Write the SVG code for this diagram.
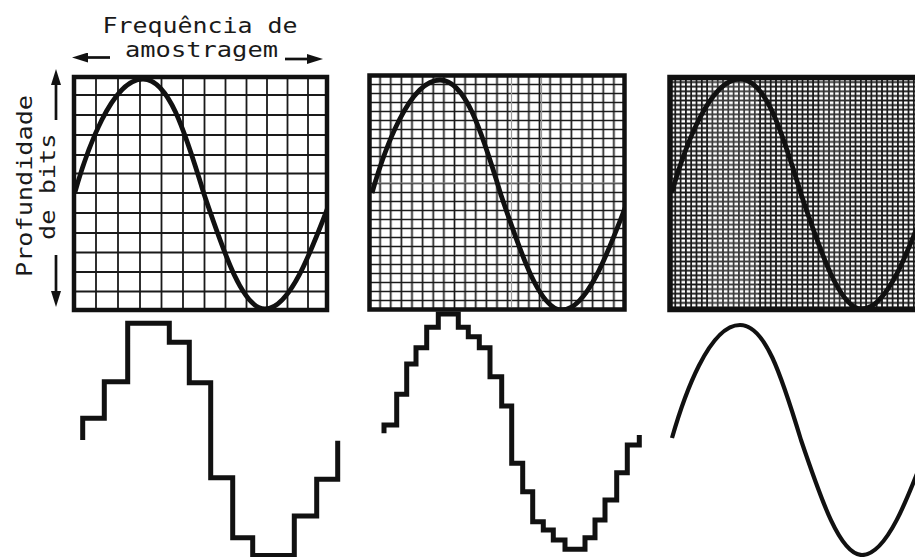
<svg xmlns="http://www.w3.org/2000/svg" xmlns:xlink="http://www.w3.org/1999/xlink" width="915" height="557" viewBox="0 0 915 557">
  <style>
    .lbl { font-family: "DejaVu Sans Mono", "Liberation Mono", monospace; font-size: 22px; fill: #1a1a1a; }
    .frame { fill: none; stroke: #111; }
    .grid { stroke: #1a1a1a; stroke-width: 1.8; fill: none; }
    .wave { fill: none; stroke: #111; stroke-width: 4.8; stroke-linejoin: round; }
    .wave-thin { fill: none; stroke: #111; stroke-width: 4.2; }
    .step { fill: none; stroke: #111; stroke-width: 5; stroke-linejoin: miter; stroke-linecap: butt; }
    .arrow { stroke: #111; stroke-width: 2.7; fill: none; }
    .grey { stroke: #9a9a9a; stroke-width: 1.2; }
  </style>
  <defs>
    <marker id="ah" markerUnits="userSpaceOnUse" markerWidth="16" markerHeight="10" refX="0" refY="5" orient="auto">
      <path d="M0,0 L16,5 L0,10 Z" fill="#111"/>
    </marker>
    <path id="sine" d="M75,192 C87,150 112,79 143,79 C168,79 184,128 204,194 C224.4,254.4 243.1,309 265,309 C289.4,309 310.3,254.4 333,194"/>
    <pattern id="grid2" patternUnits="userSpaceOnUse" x="364.1875" y="71" width="10.625" height="9">
      <path d="M5.3125,0 V9 M0,4.5 H10.625" stroke="#1a1a1a" stroke-width="1.7"/>
    </pattern>
    <pattern id="grid3" patternUnits="userSpaceOnUse" x="667.35" y="75.2" width="5.3" height="4.6">
      <path d="M2.65,0 V4.6 M0,2.3 H5.3" stroke="#1a1a1a" stroke-width="1.75"/>
    </pattern>
    <clipPath id="clip1"><rect x="74" y="77" width="253" height="233"/></clipPath>
    <clipPath id="clip2"><rect x="369.5" y="75.5" width="255" height="234"/></clipPath>
    <clipPath id="clip3"><rect x="670" y="77.5" width="260" height="232"/></clipPath>
  </defs>

  <g id="label-frequencia">
    <text class="lbl" x="102.5" y="32.5" textLength="195" lengthAdjust="spacingAndGlyphs">Frequência de</text>
    <text class="lbl" x="125" y="56.5" textLength="153" lengthAdjust="spacingAndGlyphs">amostragem</text>
  </g>

  <g id="label-profundidade">
    <text class="lbl" transform="translate(32,277) rotate(-90)" x="0" y="0" textLength="182" lengthAdjust="spacingAndGlyphs">Profundidade</text>
    <text class="lbl" transform="translate(55,240) rotate(-90)" x="0" y="0" textLength="106.5" lengthAdjust="spacingAndGlyphs">de bits</text>
  </g>

  <g id="panel-1">
    <rect x="74" y="77" width="253" height="233" fill="#fff"/>
    <path class="grid" d="M96,77V310 M118,77V310 M140,77V310 M161.5,77V310 M183,77V310 M204.5,77V310 M225.5,77V310 M246.5,77V310 M267,77V310 M287.5,77V310 M308,77V310 M74,95H327 M74,115H327 M74,135H327 M74,155H327 M74,173.5H327 M74,193H327 M74,213H327 M74,233H327 M74,252.5H327 M74,272H327 M74,291.5H327"/>
    <use xlink:href="#sine" href="#sine" class="wave" clip-path="url(#clip1)"/>
    <rect class="frame" x="74" y="77" width="253" height="233" stroke-width="4.5"/>
  </g>

  <g id="panel-2">
    <rect x="369.5" y="75.5" width="255" height="234" fill="url(#grid2)"/>
    <path class="grey" d="M511.5,78V307 M541.5,78V307 M372,183H622"/>
    <g clip-path="url(#clip2)">
      <use xlink:href="#sine" href="#sine" class="wave" transform="translate(297,1)"/>
    </g>
    <rect class="frame" x="369.5" y="75.5" width="255" height="234" stroke-width="4.5"/>
  </g>

  <g id="panel-3">
    <rect x="670" y="77.5" width="260" height="232" fill="url(#grid3)"/>
    <rect x="708" y="80" width="50" height="227" fill="#fff" opacity="0.15"/>
    <rect x="820" y="80" width="30" height="227" fill="#fff" opacity="0.1"/>
    <g clip-path="url(#clip3)">
      <use xlink:href="#sine" href="#sine" class="wave" transform="translate(597,0)"/>
    </g>
    <rect class="frame" x="670" y="77.5" width="260" height="232" stroke-width="5.5"/>
  </g>

  <g id="step-coarse">
    <path class="step" d="M82.7,440 V418.3 H104.3 V381.7 H127.7 V323.3 H169.3 V342.3 H189.3 V382.7 H210.7 V477.7 H232.7 V537.7 H252.7 V555.5 H294.3 V516 H316.7 V479.3 H337.7 V440.7"/>
  </g>

  <g id="step-fine">
    <path class="step" d="M384,433.3 V425 H396.7 V394.3 H406.7 V364 H416 V347.7 H426.7 V327.3 H438.3 V314 H458.3 V327.3 H468.3 V336.7 H479.3 V347.7 H490 V376.7 H501.7 V406 H511.7 V463.3 H522.7 V491.7 H532.7 V521.7 H543.3 V530 H553.3 V540 H565 V549.3 H585 V537.7 H595 V520 H605 V500 H616.7 V472.7 H627.3 V445 H639.3 V435"/>
  </g>

  <g id="wave-smooth">
    <use xlink:href="#sine" href="#sine" class="wave-thin" transform="translate(597,246)"/>
  </g>

  <g id="connectors">
    <line class="arrow" x1="110" y1="57.5" x2="88" y2="57.5" marker-end="url(#ah)"/>
    <line class="arrow" x1="285" y1="59" x2="307" y2="59" marker-end="url(#ah)"/>
    <line class="arrow" x1="56" y1="120" x2="56" y2="85" marker-end="url(#ah)"/>
    <line class="arrow" x1="56" y1="255" x2="56" y2="291" marker-end="url(#ah)"/>
  </g>
</svg>
